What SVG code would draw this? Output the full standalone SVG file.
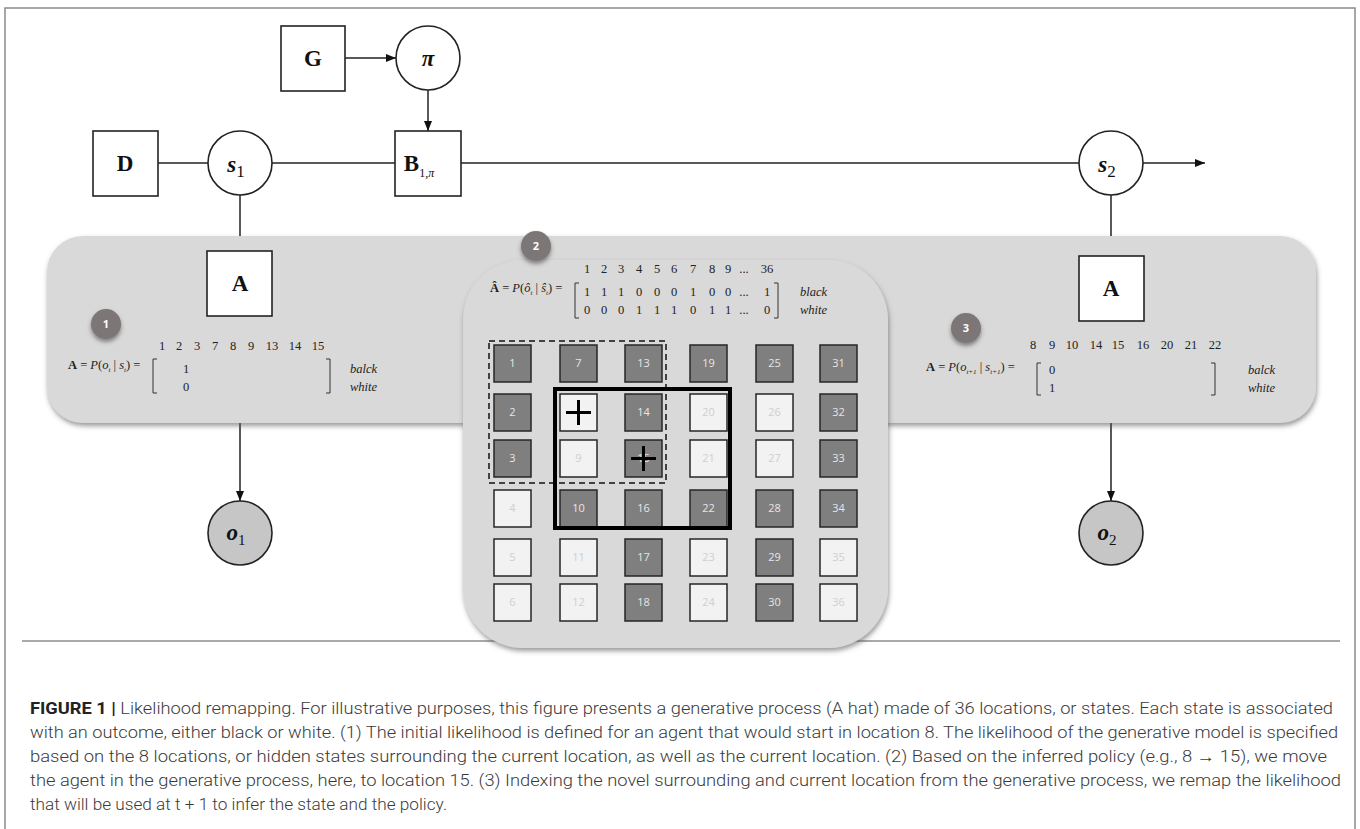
<svg xmlns="http://www.w3.org/2000/svg" width="1360" height="829" viewBox="0 0 1360 829">
<defs>
<style>
.ln{stroke:#222;stroke-width:1.5;fill:none}
.box{fill:#fff;stroke:#222;stroke-width:1.6}
.cir{fill:#fff;stroke:#222;stroke-width:1.6}
.lbl{font-family:"Liberation Serif",serif;font-weight:bold;font-size:23px;fill:#111;text-anchor:middle}
.m{font-family:"Liberation Serif",serif;font-size:12.5px;fill:#222}
.mi{font-family:"Liberation Serif",serif;font-size:12.5px;fill:#222;font-style:italic}
.br{stroke:#333;stroke-width:1;fill:none}
.panel{fill:#d9d9d9}
.badge{fill:#7b7676}
.bt{font-family:"Open Sans","Liberation Sans",sans-serif;font-weight:bold;font-size:11px;fill:#fff;text-anchor:middle}
.dk{fill:#7f7f7f;stroke:#262626;stroke-width:1.5}
.lt{fill:#f2f2f2;stroke:#262626;stroke-width:1.5}
.dt{font-family:"Open Sans","Liberation Sans",sans-serif;font-size:11px;fill:#e6e6e6;text-anchor:middle}
.ltt{font-family:"Open Sans","Liberation Sans",sans-serif;font-size:11px;fill:#cfcfcf;text-anchor:middle}
.cap{font-family:"Roboto","Liberation Sans",sans-serif;font-weight:300;font-size:16px;fill:#3a3a3a}
</style>
<marker id="arr" viewBox="0 0 10 10" refX="10" refY="5" markerWidth="10" markerHeight="10" markerUnits="userSpaceOnUse" orient="auto">
<path d="M0,1 L10,5 L0,9 z" fill="#111"/>
</marker>
<filter id="sh" x="-10%" y="-10%" width="120%" height="130%">
<feDropShadow dx="1" dy="3" stdDeviation="2.5" flood-color="#555" flood-opacity="0.6"/>
</filter>
<filter id="bsh" x="-50%" y="-50%" width="200%" height="200%">
<feDropShadow dx="0" dy="3" stdDeviation="2" flood-color="#444" flood-opacity="0.6"/>
</filter>
</defs>
<rect width="1360" height="829" fill="#fff"/>
<path d="M5,840 V8 H1355 V840" fill="none" stroke="#8a8a8a" stroke-width="1.5"/>
<line x1="22" y1="641" x2="1340" y2="641" stroke="#555" stroke-width="1"/>

<g id="connectors">
<line class="ln" x1="345" y1="58" x2="396" y2="58" marker-end="url(#arr)"/>
<line class="ln" x1="428" y1="90" x2="428" y2="131" marker-end="url(#arr)"/>
<line class="ln" x1="158" y1="163" x2="208" y2="163"/>
<line class="ln" x1="272" y1="163" x2="395" y2="163"/>
<line class="ln" x1="461" y1="163" x2="1079" y2="163"/>
<line class="ln" x1="1143" y1="163" x2="1205" y2="163" marker-end="url(#arr)"/>
<line class="ln" x1="240" y1="195" x2="240" y2="501" marker-end="url(#arr)"/>
<line class="ln" x1="1111" y1="195" x2="1111" y2="501" marker-end="url(#arr)"/>
</g>

<g id="panel-main">
<rect class="panel" x="47" y="236" width="1269" height="187" rx="36" filter="url(#sh)"/>
</g>
<g id="panel-center">
<rect class="panel" x="463" y="260" width="425" height="388" rx="60" filter="url(#sh)"/>
</g>

<g id="node-G"><rect class="box" x="281" y="26" width="64" height="65"/><text class="lbl" x="313" y="66">G</text></g>
<g id="node-pi"><circle class="cir" cx="428" cy="58" r="32"/><text class="lbl" x="428" y="66" font-style="italic">π</text></g>
<g id="node-D"><rect class="box" x="93" y="131" width="65" height="65"/><text class="lbl" x="125" y="171">D</text></g>
<g id="node-s1"><circle class="cir" cx="240" cy="163" r="32"/><text class="lbl" x="236" y="172" font-style="italic">s<tspan font-weight="normal" font-style="normal" font-size="17" dy="5">1</tspan></text></g>
<g id="node-B"><rect class="box" x="395" y="131" width="66" height="65"/><text class="lbl" x="419" y="171">B<tspan font-weight="normal" font-size="12" dy="6">1,<tspan font-style="italic">π</tspan></tspan></text></g>
<g id="node-s2"><circle class="cir" cx="1111" cy="163" r="32"/><text class="lbl" x="1107" y="172" font-style="italic">s<tspan font-weight="normal" font-style="normal" font-size="17" dy="5">2</tspan></text></g>
<g id="node-A1"><rect class="box" x="207" y="251" width="65" height="65"/><text class="lbl" x="240" y="291">A</text></g>
<g id="node-A2"><rect class="box" x="1079" y="256" width="65" height="65"/><text class="lbl" x="1111" y="296">A</text></g>
<g id="node-o1"><circle cx="240" cy="533" r="32" fill="#c6c6c6" stroke="#222" stroke-width="1.6"/><text class="lbl" x="236" y="540" font-style="italic">o<tspan font-weight="normal" font-style="normal" font-size="15" dy="5">1</tspan></text></g>
<g id="node-o2"><circle cx="1111" cy="533" r="32" fill="#c6c6c6" stroke="#222" stroke-width="1.6"/><text class="lbl" x="1107" y="540" font-style="italic">o<tspan font-weight="normal" font-style="normal" font-size="15" dy="5">2</tspan></text></g>

<g id="badge-1"><circle class="badge" cx="106" cy="324" r="15" filter="url(#bsh)"/><text class="bt" x="106" y="328">1</text></g>
<g id="badge-2"><circle class="badge" cx="536" cy="246" r="15" filter="url(#bsh)"/><text class="bt" x="536" y="250">2</text></g>
<g id="badge-3"><circle class="badge" cx="966" cy="328" r="15" filter="url(#bsh)"/><text class="bt" x="966" y="332">3</text></g>

<g id="matrix-1">
<text class="m" x="68" y="369"><tspan font-weight="bold">A</tspan> = <tspan font-style="italic">P</tspan>(<tspan font-style="italic">o</tspan><tspan font-size="7" dy="3" font-style="italic">t</tspan><tspan dy="-3"> | </tspan><tspan font-style="italic">s</tspan><tspan font-size="7" dy="3" font-style="italic">t</tspan><tspan dy="-3">) =</tspan></text>
<g class="m" text-anchor="middle">
<text x="162" y="350">1</text><text x="179" y="350">2</text><text x="197" y="350">3</text><text x="215" y="350">7</text><text x="233" y="350">8</text><text x="251" y="350">9</text><text x="272" y="350">13</text><text x="295" y="350">14</text><text x="318" y="350">15</text>
<text x="186" y="373">1</text><text x="186" y="391">0</text>
</g>
<path class="br" d="M157,359 H153 V393 H157"/>
<path class="br" d="M326,359 H330 V393 H326"/>
<text class="mi" x="350" y="373">balck</text>
<text class="mi" x="350" y="391">white</text>
</g>

<g id="matrix-2">
<text class="m" x="490" y="292"><tspan font-weight="bold">Â</tspan> = <tspan font-style="italic">P</tspan>(<tspan font-style="italic">ô</tspan><tspan font-size="7" dy="3" font-style="italic">t</tspan><tspan dy="-3"> | </tspan><tspan font-style="italic">ŝ</tspan><tspan font-size="7" dy="3" font-style="italic">t</tspan><tspan dy="-3">) =</tspan></text>
<g class="m" text-anchor="middle">
<text x="587" y="273">1</text><text x="604" y="273">2</text><text x="621" y="273">3</text><text x="639" y="273">4</text><text x="657" y="273">5</text><text x="674" y="273">6</text><text x="693" y="273">7</text><text x="712" y="273">8</text><text x="728" y="273">9</text><text x="744" y="273">...</text><text x="767" y="273">36</text>
<text x="587" y="296">1</text><text x="604" y="296">1</text><text x="621" y="296">1</text><text x="639" y="296">0</text><text x="657" y="296">0</text><text x="674" y="296">0</text><text x="693" y="296">1</text><text x="712" y="296">0</text><text x="728" y="296">0</text><text x="744" y="296">...</text><text x="767" y="296">1</text>
<text x="587" y="314">0</text><text x="604" y="314">0</text><text x="621" y="314">0</text><text x="639" y="314">1</text><text x="657" y="314">1</text><text x="674" y="314">1</text><text x="693" y="314">0</text><text x="712" y="314">1</text><text x="728" y="314">1</text><text x="744" y="314">...</text><text x="767" y="314">0</text>
</g>
<path class="br" d="M579,283 H575 V318 H579"/>
<path class="br" d="M774,283 H778 V318 H774"/>
<text class="mi" x="800" y="296">black</text>
<text class="mi" x="800" y="314">white</text>
</g>

<g id="matrix-3">
<text class="m" x="926" y="371"><tspan font-weight="bold">A</tspan> = <tspan font-style="italic">P</tspan>(<tspan font-style="italic">o</tspan><tspan font-size="7" dy="3" font-style="italic">t+1</tspan><tspan dy="-3"> | </tspan><tspan font-style="italic">s</tspan><tspan font-size="7" dy="3" font-style="italic">t+1</tspan><tspan dy="-3">) =</tspan></text>
<g class="m" text-anchor="middle">
<text x="1033" y="349">8</text><text x="1052" y="349">9</text><text x="1072" y="349">10</text><text x="1096" y="349">14</text><text x="1118" y="349">15</text><text x="1143" y="349">16</text><text x="1167" y="349">20</text><text x="1191" y="349">21</text><text x="1215" y="349">22</text>
<text x="1052" y="374">0</text><text x="1052" y="392">1</text>
</g>
<path class="br" d="M1041,363 H1037 V395 H1041"/>
<path class="br" d="M1211,363 H1215 V395 H1211"/>
<text class="mi" x="1248" y="374">balck</text>
<text class="mi" x="1248" y="392">white</text>
</g>

<g id="grid">
<g id="col-1">
<rect class="dk" x="494" y="345" width="37" height="37"/><text class="dt" x="512.5" y="367">1</text>
<rect class="dk" x="494" y="394" width="37" height="37"/><text class="dt" x="512.5" y="416">2</text>
<rect class="dk" x="494" y="440" width="37" height="37"/><text class="dt" x="512.5" y="462">3</text>
<rect class="lt" x="494" y="490" width="37" height="37"/><text class="ltt" x="512.5" y="512">4</text>
<rect class="lt" x="494" y="539" width="37" height="37"/><text class="ltt" x="512.5" y="561">5</text>
<rect class="lt" x="494" y="584" width="37" height="37"/><text class="ltt" x="512.5" y="606">6</text>
</g>
<g id="col-2">
<rect class="dk" x="560" y="345" width="37" height="37"/><text class="dt" x="578.5" y="367">7</text>
<rect class="lt" x="560" y="394" width="37" height="37"/>
<rect class="lt" x="560" y="440" width="37" height="37"/><text class="ltt" x="578.5" y="462">9</text>
<rect class="dk" x="560" y="490" width="37" height="37"/><text class="dt" x="578.5" y="512">10</text>
<rect class="lt" x="560" y="539" width="37" height="37"/><text class="ltt" x="578.5" y="561">11</text>
<rect class="lt" x="560" y="584" width="37" height="37"/><text class="ltt" x="578.5" y="606">12</text>
</g>
<g id="col-3">
<rect class="dk" x="625" y="345" width="37" height="37"/><text class="dt" x="643.5" y="367">13</text>
<rect class="dk" x="625" y="394" width="37" height="37"/><text class="dt" x="643.5" y="416">14</text>
<rect class="dk" x="625" y="440" width="37" height="37"/><text class="dt" x="643.5" y="462">15</text>
<rect class="dk" x="625" y="490" width="37" height="37"/><text class="dt" x="643.5" y="512">16</text>
<rect class="dk" x="625" y="539" width="37" height="37"/><text class="dt" x="643.5" y="561">17</text>
<rect class="dk" x="625" y="584" width="37" height="37"/><text class="dt" x="643.5" y="606">18</text>
</g>
<g id="col-4">
<rect class="dk" x="690" y="345" width="37" height="37"/><text class="dt" x="708.5" y="367">19</text>
<rect class="lt" x="690" y="394" width="37" height="37"/><text class="ltt" x="708.5" y="416">20</text>
<rect class="lt" x="690" y="440" width="37" height="37"/><text class="ltt" x="708.5" y="462">21</text>
<rect class="dk" x="690" y="490" width="37" height="37"/><text class="dt" x="708.5" y="512">22</text>
<rect class="lt" x="690" y="539" width="37" height="37"/><text class="ltt" x="708.5" y="561">23</text>
<rect class="lt" x="690" y="584" width="37" height="37"/><text class="ltt" x="708.5" y="606">24</text>
</g>
<g id="col-5">
<rect class="dk" x="756" y="345" width="37" height="37"/><text class="dt" x="774.5" y="367">25</text>
<rect class="lt" x="756" y="394" width="37" height="37"/><text class="ltt" x="774.5" y="416">26</text>
<rect class="lt" x="756" y="440" width="37" height="37"/><text class="ltt" x="774.5" y="462">27</text>
<rect class="dk" x="756" y="490" width="37" height="37"/><text class="dt" x="774.5" y="512">28</text>
<rect class="dk" x="756" y="539" width="37" height="37"/><text class="dt" x="774.5" y="561">29</text>
<rect class="dk" x="756" y="584" width="37" height="37"/><text class="dt" x="774.5" y="606">30</text>
</g>
<g id="col-6">
<rect class="dk" x="820" y="345" width="37" height="37"/><text class="dt" x="838.5" y="367">31</text>
<rect class="dk" x="820" y="394" width="37" height="37"/><text class="dt" x="838.5" y="416">32</text>
<rect class="dk" x="820" y="440" width="37" height="37"/><text class="dt" x="838.5" y="462">33</text>
<rect class="dk" x="820" y="490" width="37" height="37"/><text class="dt" x="838.5" y="512">34</text>
<rect class="lt" x="820" y="539" width="37" height="37"/><text class="ltt" x="838.5" y="561">35</text>
<rect class="lt" x="820" y="584" width="37" height="37"/><text class="ltt" x="838.5" y="606">36</text>
</g>
<path d="M566,412.5 H591 M578.5,400 V425" stroke="#000" stroke-width="3" fill="none"/>
<path d="M631,458.5 H656 M643.5,446 V471" stroke="#000" stroke-width="3" fill="none"/>
<rect x="489" y="341" width="177" height="142" fill="none" stroke="#111" stroke-width="1.5" stroke-dasharray="6,4"/>
<rect x="555" y="389" width="175" height="139" fill="none" stroke="#000" stroke-width="4"/>
</g>

<g id="caption">
<text class="cap" x="30" y="714" textLength="1303" lengthAdjust="spacingAndGlyphs"><tspan font-weight="bold" fill="#222">FIGURE 1 |</tspan> Likelihood remapping. For illustrative purposes, this figure presents a generative process (A hat) made of 36 locations, or states. Each state is associated</text>
<text class="cap" x="30" y="738" textLength="1308" lengthAdjust="spacingAndGlyphs">with an outcome, either black or white. (1) The initial likelihood is defined for an agent that would start in location 8. The likelihood of the generative model is specified</text>
<text class="cap" x="30" y="762" textLength="1297" lengthAdjust="spacingAndGlyphs">based on the 8 locations, or hidden states surrounding the current location, as well as the current location. (2) Based on the inferred policy (e.g., 8 → 15), we move</text>
<text class="cap" x="30" y="786" textLength="1311" lengthAdjust="spacingAndGlyphs">the agent in the generative process, here, to location 15. (3) Indexing the novel surrounding and current location from the generative process, we remap the likelihood</text>
<text class="cap" x="30" y="810" textLength="417" lengthAdjust="spacingAndGlyphs">that will be used at t + 1 to infer the state and the policy.</text>
</g>
</svg>
